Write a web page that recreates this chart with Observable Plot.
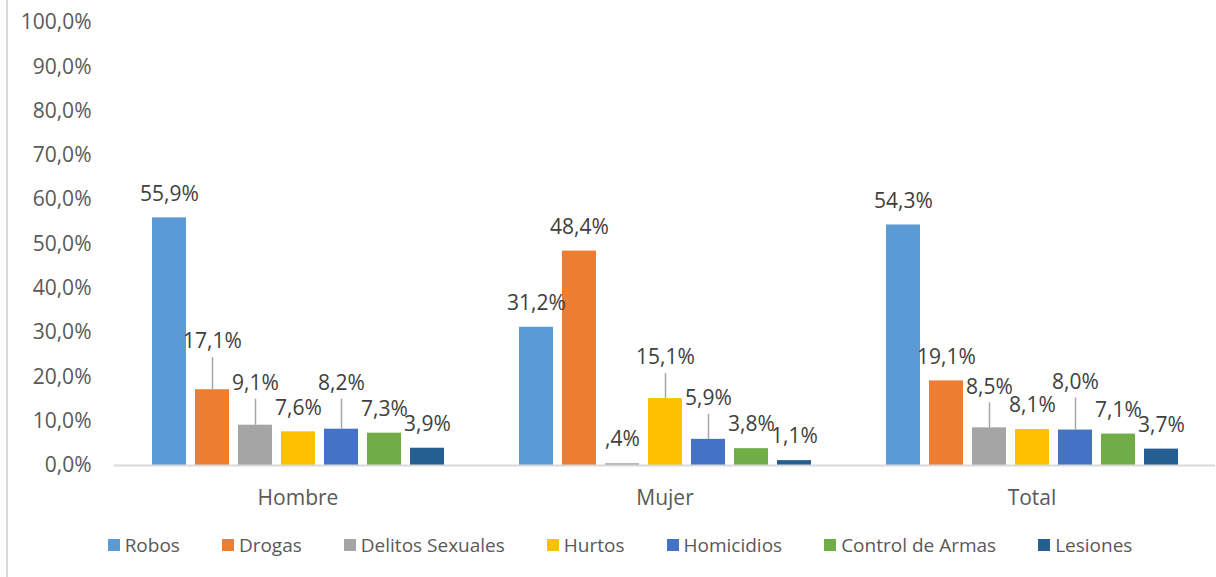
<!DOCTYPE html>
<html>
<head>
<meta charset="utf-8">
<script src="https://cdn.jsdelivr.net/npm/d3@7"></script>
<script src="https://cdn.jsdelivr.net/npm/@observablehq/plot@0.6"></script>
<style>
  html, body { margin: 0; padding: 0; background: #fff; }
  body { width: 1216px; height: 577px; overflow: hidden; position: relative; font-family: "Open Sans", sans-serif; }
  #frame { position: absolute; left: 6px; top: 0; width: 2px; height: 577px; background: #d9d9d9; }
  #chart { position: absolute; left: 0; top: 0; }
  #legend { position: absolute; left: 0; top: 532px; width: 1216px; display: flex; justify-content: center; padding-left: 24px; box-sizing: border-box; font-size: 19px; color: #595959; }
  .item { display: flex; align-items: center; margin: 0 21px; }
  .sw { width: 12px; height: 12px; margin-right: 5px; }
</style>
</head>
<body>
<div id="frame"></div>
<div id="chart"></div>
<div id="legend"></div>
<script>
const groups = ["Hombre", "Mujer", "Total"];
const series = ["Robos", "Drogas", "Delitos Sexuales", "Hurtos", "Homicidios", "Control de Armas", "Lesiones"];
const hombre = [55.9, 17.1, 9.1, 7.6, 8.2, 7.3, 3.9];
const mujer  = [31.2, 48.4, 0.4, 15.1, 5.9, 3.8, 1.1];
const total  = [54.3, 19.1, 8.5, 8.1, 8.0, 7.1, 3.7];
const yTicks = [0, 10, 20, 30, 40, 50, 60, 70, 80, 90, 100];
const colors = ["#5B9BD5", "#ED7D31", "#A5A5A5", "#FFC000", "#4472C4", "#70AD47", "#255E91"];

// annotation layout: extra pixel lift of displaced data labels (with leader line)
const labelLift = {
  Hombre: [0, 24, 18, 0, 22, 0, 0],
  Mujer:  [0, 0, 0, 17, 17, 0, 0],
  Total:  [0, 0, 17, 0, 24, 0, 0]
};

const values = { Hombre: hombre, Mujer: mujer, Total: total };
const data = [];
for (const g of groups) {
  series.forEach((s, i) => data.push({ group: g, series: s, value: values[g][i], lift: labelLift[g][i] }));
}

const W = 1216, H = 520, MT = 22, MB = 55;
const pxPerUnit = (H - MT - MB) / 100;
const baseOffset = 24;

const tickFmt = d => d.toFixed(1).replace(".", ",") + "%";
const labelFmt = d => {
  let s = d.toFixed(1).replace(".", ",");
  if (s.startsWith("0,")) s = s.slice(1);
  return s + "%";
};

const chart = Plot.plot({
  width: W,
  height: H,
  marginLeft: 113,
  marginRight: 0,
  marginTop: MT,
  marginBottom: MB,
  style: { fontFamily: "Open Sans", fontSize: "21px", color: "#595959", background: "transparent", overflow: "visible" },
  fx: { domain: groups, padding: 0, label: null, axis: "bottom", tickSize: 0, tickPadding: 25 },
  x: { domain: series, axis: null, paddingInner: 0.22, paddingOuter: 0.84 },
  y: { domain: [0, 100], ticks: yTicks, tickFormat: tickFmt, tickSize: 0, tickPadding: 23, label: null },
  color: { domain: series, range: colors },
  marks: [
    Plot.barY(data, { fx: "group", x: "series", y: "value", fill: "series" }),
    Plot.ruleY([0], { stroke: "#d9d9d9", strokeWidth: 2 }),
    Plot.ruleX(data.filter(d => d.lift > 0), {
      fx: "group", x: "series",
      y1: "value",
      y2: d => d.value + (d.lift + 8) / pxPerUnit,
      stroke: "#a6a6a6", strokeWidth: 1.5
    }),
    Plot.text(data, {
      fx: "group", x: "series",
      y: d => d.value + (baseOffset + d.lift) / pxPerUnit,
      text: d => labelFmt(d.value),
      fill: "#404040",
      fontSize: 21
    })
  ]
});
document.getElementById("chart").appendChild(chart);

const legend = document.getElementById("legend");
series.forEach((s, i) => {
  const it = document.createElement("div");
  it.className = "item";
  const sw = document.createElement("span");
  sw.className = "sw";
  sw.style.background = colors[i];
  const tx = document.createElement("span");
  tx.textContent = s;
  it.appendChild(sw);
  it.appendChild(tx);
  legend.appendChild(it);
});
</script>
</body>
</html>
